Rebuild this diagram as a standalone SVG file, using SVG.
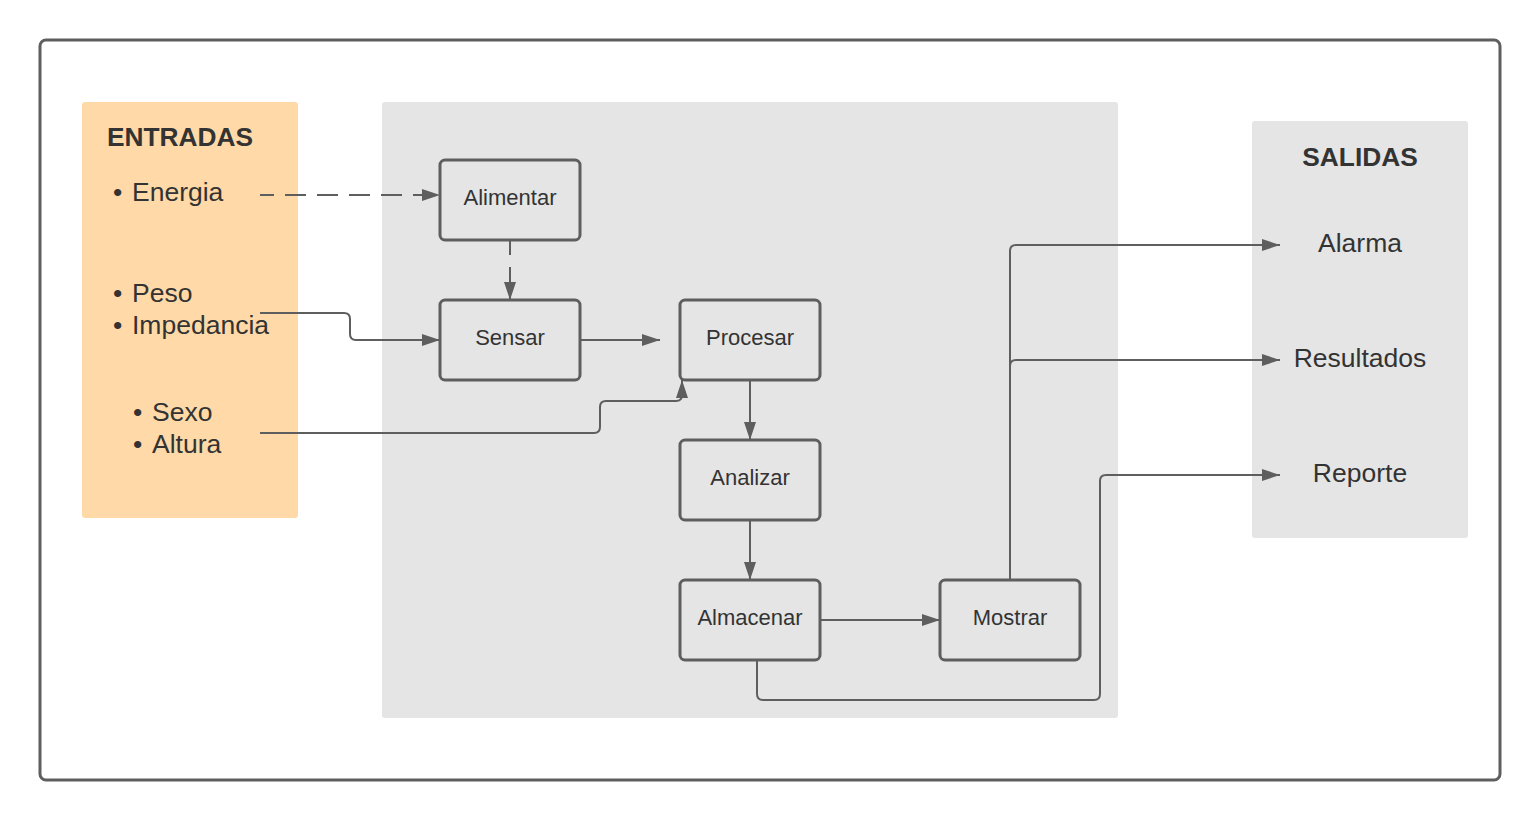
<svg xmlns="http://www.w3.org/2000/svg" width="1540" height="820" viewBox="0 0 1540 820">
<style>
.t{font-family:"Liberation Sans",Arial,sans-serif;fill:#333333}
.node rect{fill:#e5e5e5;stroke:#5e5e5e;stroke-width:3}
.node text{font-size:22px;text-anchor:middle}
.ln{fill:none;stroke:#5e5e5e;stroke-width:2}
.big{font-size:26.5px}
.b{font-weight:bold;font-size:26.3px}
</style>
<defs>
<marker id="ah" viewBox="0 0 18 12" refX="18" refY="6" markerWidth="18" markerHeight="12" markerUnits="userSpaceOnUse" orient="auto">
<path d="M0,0 L18,6 L0,12 Z" fill="#5e5e5e"/>
</marker>
</defs>
<rect x="0" y="0" width="1540" height="820" fill="#ffffff"/>
<rect id="frame" x="40" y="40" width="1460" height="740" rx="6" fill="#ffffff" stroke="#5e5e5e" stroke-width="3"/>
<g id="entradas">
<rect x="82" y="102" width="216" height="416" rx="3" fill="#ffdaa8"/>
<text class="t b" x="107" y="146">ENTRADAS</text>
<text class="t big" x="113" y="201">•</text><text class="t big" x="132" y="201">Energia</text>
<text class="t big" x="113" y="302">•</text><text class="t big" x="132" y="302">Peso</text>
<text class="t big" x="113" y="334">•</text><text class="t big" x="132" y="334">Impedancia</text>
<text class="t big" x="133" y="421">•</text><text class="t big" x="152" y="421">Sexo</text>
<text class="t big" x="133" y="453">•</text><text class="t big" x="152" y="453">Altura</text>
</g>
<g id="proceso">
<rect x="382" y="102" width="736" height="616" rx="3" fill="#e5e5e5"/>
</g>
<g id="salidas">
<rect x="1252" y="121" width="216" height="417" rx="3" fill="#e5e5e5"/>
<text class="t b" x="1360" y="166" text-anchor="middle">SALIDAS</text>
<text class="t big" x="1360" y="252" text-anchor="middle">Alarma</text>
<text class="t big" x="1360" y="367" text-anchor="middle">Resultados</text>
<text class="t big" x="1360" y="482" text-anchor="middle">Reporte</text>
</g>
<g id="connectors">
<path class="ln" d="M260,195 H440" stroke-dasharray="21 11" stroke-dashoffset="7" marker-end="url(#ah)"/>
<path class="ln" d="M510,240 V300" stroke-dasharray="15 12" marker-end="url(#ah)"/>
<path class="ln" d="M260,313 H344 Q350,313 350,319 V334 Q350,340 356,340 H440" marker-end="url(#ah)"/>
<path class="ln" d="M580,340 H660" marker-end="url(#ah)"/>
<path class="ln" d="M260,433 H594 Q600,433 600,427 V407 Q600,401 606,401 H676 Q682,401 682,395 V380" marker-end="url(#ah)"/>
<path class="ln" d="M750,380 V440" marker-end="url(#ah)"/>
<path class="ln" d="M750,520 V580" marker-end="url(#ah)"/>
<path class="ln" d="M820,620 H940" marker-end="url(#ah)"/>
<path class="ln" d="M1010,580 V251 Q1010,245 1016,245 H1280" marker-end="url(#ah)"/>
<path class="ln" d="M1010,366 Q1010,360 1016,360 H1280" marker-end="url(#ah)"/>
<path class="ln" d="M757,660 V694 Q757,700 763,700 H1094 Q1100,700 1100,694 V481 Q1100,475 1106,475 H1280" marker-end="url(#ah)"/>
</g>
<g id="alimentar" class="node"><rect x="440" y="160" width="140" height="80" rx="5"/><text class="t" x="510" y="205">Alimentar</text></g>
<g id="sensar" class="node"><rect x="440" y="300" width="140" height="80" rx="5"/><text class="t" x="510" y="345">Sensar</text></g>
<g id="procesar" class="node"><rect x="680" y="300" width="140" height="80" rx="5"/><text class="t" x="750" y="345">Procesar</text></g>
<g id="analizar" class="node"><rect x="680" y="440" width="140" height="80" rx="5"/><text class="t" x="750" y="485">Analizar</text></g>
<g id="almacenar" class="node"><rect x="680" y="580" width="140" height="80" rx="5"/><text class="t" x="750" y="625">Almacenar</text></g>
<g id="mostrar" class="node"><rect x="940" y="580" width="140" height="80" rx="5"/><text class="t" x="1010" y="625">Mostrar</text></g>
</svg>
